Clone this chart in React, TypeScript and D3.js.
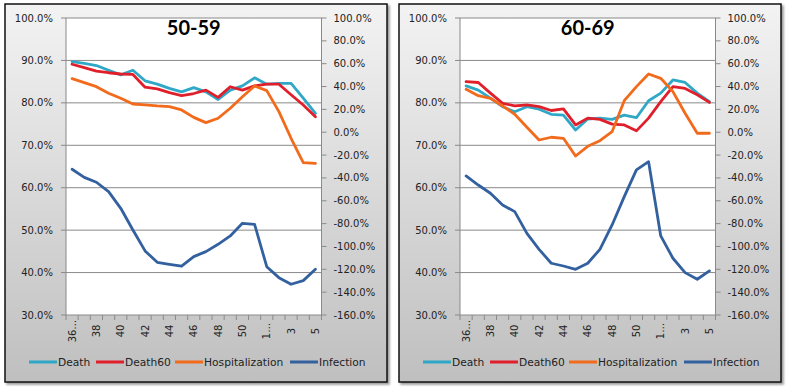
import React from "react";
import * as d3 from "d3";

const WIDTH = 786;
const HEIGHT = 388;
const PANEL = { w: 382, h: 378 };
const PLOT = { left: 61, right: 316.5, top: 14, bottom: 311 };

// week numbers along the x axis (truncated labels as they appear)
const weeks = ["36…", "37", "38", "39", "40", "41", "42", "43", "44", "45", "46", "47", "48", "49", "50", "51", "1…", "2", "3", "4", "5"];
const leftTicks = [30, 40, 50, 60, 70, 80, 90, 100];
const rightTicks = [-160, -140, -120, -100, -80, -60, -40, -20, 0, 20, 40, 60, 80, 100];

// 50-59
const death5059 = [89.7, 89.3, 88.8, 87.7, 86.6, 87.7, 85.2, 84.4, 83.4, 82.6, 83.6, 82.6, 80.8, 83.0, 84.0, 85.9, 84.4, 84.6, 84.6, 81.1, 77.5];
const death60_5059 = [89.1, 88.3, 87.5, 87.1, 86.8, 86.7, 83.7, 83.3, 82.4, 81.7, 82.2, 83.0, 81.3, 83.8, 83.0, 84.0, 84.4, 84.4, 81.9, 79.5, 76.7];
const hosp5059 = [46.9, 43.4, 39.9, 34.1, 29.7, 24.7, 23.9, 23.0, 22.4, 19.5, 13.0, 8.4, 12.2, 21.0, 31.1, 40.5, 36.4, 18.0, -5.3, -26.6, -27.2];
const infection5059 = [-32.4, -39.5, -43.8, -52.0, -66.6, -85.6, -103.9, -113.9, -115.6, -117.3, -108.9, -104.5, -98.1, -90.8, -79.7, -80.6, -117.7, -127.3, -133.1, -129.9, -120.0];

// 60-69
const death6069 = [84.0, 83.0, 81.1, 79.1, 77.9, 79.1, 78.5, 77.3, 77.1, 73.6, 76.2, 76.4, 76.1, 77.1, 76.5, 80.5, 82.3, 85.4, 84.8, 82.3, 80.3];
const death60_6069 = [85.0, 84.8, 82.3, 79.9, 79.3, 79.5, 79.1, 78.2, 78.6, 74.8, 76.4, 76.1, 75.0, 74.8, 73.4, 76.4, 80.3, 83.8, 83.4, 81.9, 80.1];
const hosp6069 = [37.6, 32.0, 29.7, 23.0, 15.7, 4.3, -6.8, -4.4, -5.3, -20.8, -12.3, -7.4, 0.5, 27.6, 39.9, 51.0, 47.2, 35.5, 16.6, -0.9, -0.9];
const infection6069 = [-38.3, -46.2, -53.4, -63.7, -69.5, -88.5, -102.5, -114.7, -117.1, -120.0, -114.7, -102.5, -81.2, -56.4, -33.0, -25.8, -90.8, -110.3, -122.9, -128.7, -121.4];

const seriesNames = ["Death", "Death60", "Hospitalization", "Infection"];
const colors = ["#2fa8c7", "#e01f2b", "#f26a1b", "#33609f"];
const axisSide = ["left", "left", "right", "right"];
const legendX = [24, 91, 170, 285];

const FONT = "'DejaVu Sans', Verdana, sans-serif";

type PanelProps = { x: number; y: number; title: string; series: number[][] };

const Panel = ({ x, y, title, series }: PanelProps) => {
  const xScale = d3.scaleBand<string>().domain(weeks).range([PLOT.left, PLOT.right]).padding(0);
  const yLeft = d3.scaleLinear().domain([30, 100]).range([PLOT.bottom, PLOT.top]);
  const yRight = d3.scaleLinear().domain([-160, 100]).range([PLOT.bottom, PLOT.top]);
  const bw = xScale.bandwidth();

  const lines = series.map((vals, s) => {
    const ys = axisSide[s] === "left" ? yLeft : yRight;
    const gen = d3
      .line<number>()
      .x((_, i) => (xScale(weeks[i]) as number) + bw / 2)
      .y((v) => ys(v));
    return (
      <path key={s} d={gen(vals) || ""} fill="none" stroke={colors[s]} strokeWidth={2.8} strokeLinejoin="round" strokeLinecap="round" />
    );
  });

  return (
    <g transform={`translate(${x},${y})`}>
      <rect x={0} y={0} width={PANEL.w} height={PANEL.h} fill="url(#panelGrad)" stroke="#111" strokeWidth={1.5} filter="url(#shadow)" />
      <rect x={PLOT.left} y={PLOT.top} width={PLOT.right - PLOT.left} height={PLOT.bottom - PLOT.top} fill="#fff" />
      {leftTicks.slice(1, -1).map((t) => (
        <line key={t} x1={PLOT.left} x2={PLOT.right} y1={yLeft(t)} y2={yLeft(t)} stroke="#8a8a8a" strokeWidth={1} />
      ))}
      <rect x={PLOT.left} y={PLOT.top} width={PLOT.right - PLOT.left} height={PLOT.bottom - PLOT.top} fill="none" stroke="#8a8a8a" strokeWidth={1} />
      {leftTicks.map((t) => (
        <g key={t}>
          <line x1={PLOT.left - 5} x2={PLOT.left} y1={yLeft(t)} y2={yLeft(t)} stroke="#8a8a8a" />
          <text x={PLOT.left - 13} y={yLeft(t)} dy="0.35em" textAnchor="end" fontSize={10} fontFamily={FONT} fill="#222">
            {t.toFixed(1)}%
          </text>
        </g>
      ))}
      {rightTicks.map((t) => (
        <g key={t}>
          <line x1={PLOT.right} x2={PLOT.right + 5} y1={yRight(t)} y2={yRight(t)} stroke="#8a8a8a" />
          <text x={PLOT.right + 12} y={yRight(t)} dy="0.35em" textAnchor="start" fontSize={10} fontFamily={FONT} fill="#222">
            {t.toFixed(1)}%
          </text>
        </g>
      ))}
      {d3.range(weeks.length + 1).map((i) => (
        <line key={i} x1={PLOT.left + i * bw} x2={PLOT.left + i * bw} y1={PLOT.bottom} y2={PLOT.bottom + 5} stroke="#8a8a8a" />
      ))}
      {weeks.map((w, i) =>
        i % 2 === 0 ? (
          <text
            key={w}
            transform={`translate(${(xScale(w) as number) + bw / 2},${PLOT.bottom + 16}) rotate(-90)`}
            dy="0.35em"
            textAnchor="middle"
            fontSize={10}
            fontFamily={FONT}
            fill="#222"
          >
            {w}
          </text>
        ) : null
      )}
      {lines}
      <text x={(PLOT.left + PLOT.right) / 2} y={31} textAnchor="middle" fontSize={20} fontWeight="bold" fontFamily="Lato, 'Open Sans', sans-serif" fill="#000">
        {title}
      </text>
      {seriesNames.map((n, s) => (
        <g key={n} transform={`translate(${legendX[s]},358)`}>
          <line x1={0} x2={28} y1={0} y2={0} stroke={colors[s]} strokeWidth={3} />
          <text x={29} y={0} dy="0.35em" fontSize={10.7} fontFamily={FONT} fill="#222">
            {n}
          </text>
        </g>
      ))}
    </g>
  );
};

export default function App() {
  return (
    <svg width={WIDTH} height={HEIGHT} style={{ position: "absolute", left: 0, top: 0, background: "#fff" }}>
      <defs>
        <linearGradient id="panelGrad" x1="0" y1="0" x2="0" y2="1">
          <stop offset="0%" stopColor="#f3f3f3" />
          <stop offset="100%" stopColor="#bfbfbf" />
        </linearGradient>
        <filter id="shadow" x="-5%" y="-5%" width="110%" height="110%">
          <feDropShadow dx={2} dy={2} stdDeviation={1.2} floodColor="#000" floodOpacity={0.4} />
        </filter>
      </defs>
      <Panel x={5} y={4} title="50-59" series={[death5059, death60_5059, hosp5059, infection5059]} />
      <Panel x={399} y={4} title="60-69" series={[death6069, death60_6069, hosp6069, infection6069]} />
    </svg>
  );
}
